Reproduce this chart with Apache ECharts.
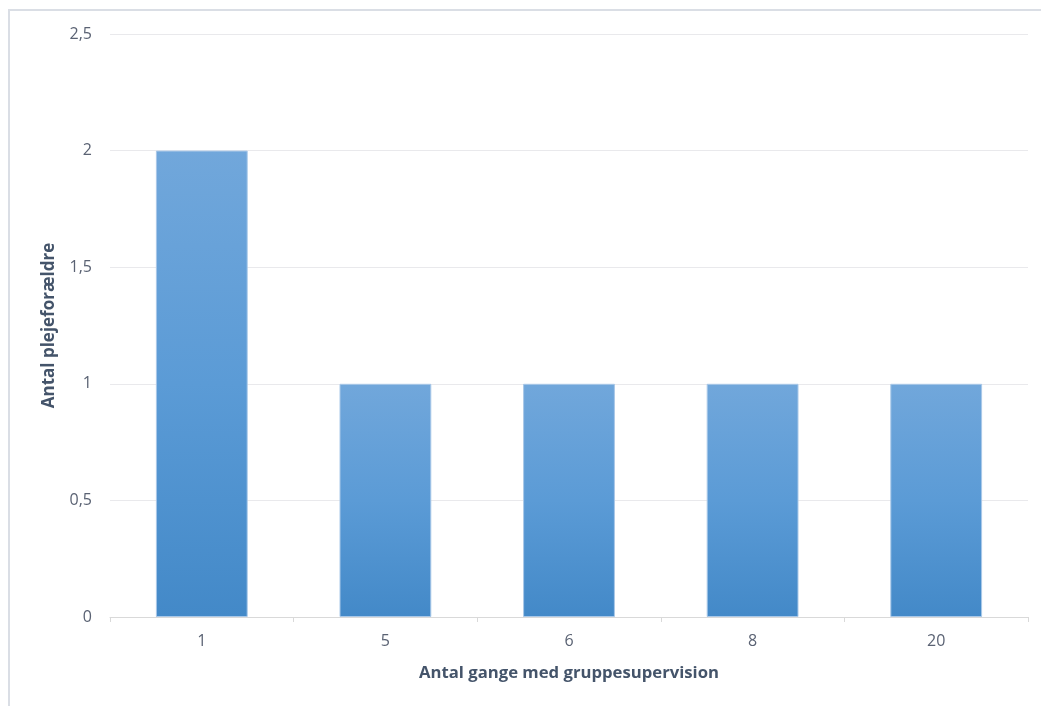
<!DOCTYPE html>
<html>
<head>
<meta charset="utf-8">
<script src="https://cdn.jsdelivr.net/npm/echarts@6/dist/echarts.min.js"></script>
<style>
html,body{margin:0;padding:0;background:#fff;}
#frame{position:absolute;left:8px;top:9px;width:1040px;height:700px;border-left:2px solid #dadee5;border-top:2px solid #dadee5;}
#chart{position:absolute;left:0;top:0;width:1041px;height:706px;}
</style>
</head>
<body>
<div id="frame"></div>
<div id="chart"></div>
<script>
const categories = ['1', '5', '6', '8', '20'];
const values = [2, 1, 1, 1, 1];
const yTicks = { min: 0, max: 2.5, interval: 0.5 };
const xTitle = 'Antal gange med gruppesupervision';
const yTitle = 'Antal plejeforældre';

const chart = echarts.init(document.getElementById('chart'));
const font = '"Open Sans", "Liberation Sans", sans-serif';
chart.setOption({
  animation: false,
  backgroundColor: 'transparent',
  grid: { left: 110, right: 13, top: 34, bottom: 89, containLabel: false },
  xAxis: {
    type: 'category',
    data: categories,
    name: xTitle,
    nameLocation: 'middle',
    nameGap: 48,
    nameTextStyle: { color: '#44546a', fontSize: 16.7, fontWeight: 'bold', fontFamily: font },
    axisLine: { lineStyle: { color: '#d9d9d9', width: 1 } },
    axisTick: { show: true, length: 5, lineStyle: { color: '#d9d9d9' }, alignWithLabel: false },
    axisLabel: { color: '#5a6273', fontSize: 16, fontFamily: font, margin: 16 }
  },
  yAxis: {
    type: 'value',
    min: yTicks.min, max: yTicks.max, interval: yTicks.interval,
    name: yTitle,
    nameLocation: 'middle',
    nameGap: 52,
    nameRotate: 90,
    nameTextStyle: { color: '#44546a', fontSize: 17, fontWeight: 'bold', fontFamily: font },
    axisLine: { show: false },
    axisTick: { show: false },
    axisLabel: {
      color: '#5a6273', fontSize: 16, fontFamily: font, margin: 18,
      formatter: v => String(v).replace('.', ',')
    },
    splitLine: { lineStyle: { color: '#e9e9ec', width: 1 } }
  },
  series: [{
    type: 'bar',
    data: values,
    barWidth: '50%',
    itemStyle: {
      color: new echarts.graphic.LinearGradient(0, 0, 0, 1, [
        { offset: 0, color: '#71a7db' },
        { offset: 0.5, color: '#5b9bd6' },
        { offset: 1, color: '#4389c8' }
      ]),
      borderColor: '#a9c8e8',
      borderWidth: 1
    }
  }]
});
</script>
</body>
</html>
